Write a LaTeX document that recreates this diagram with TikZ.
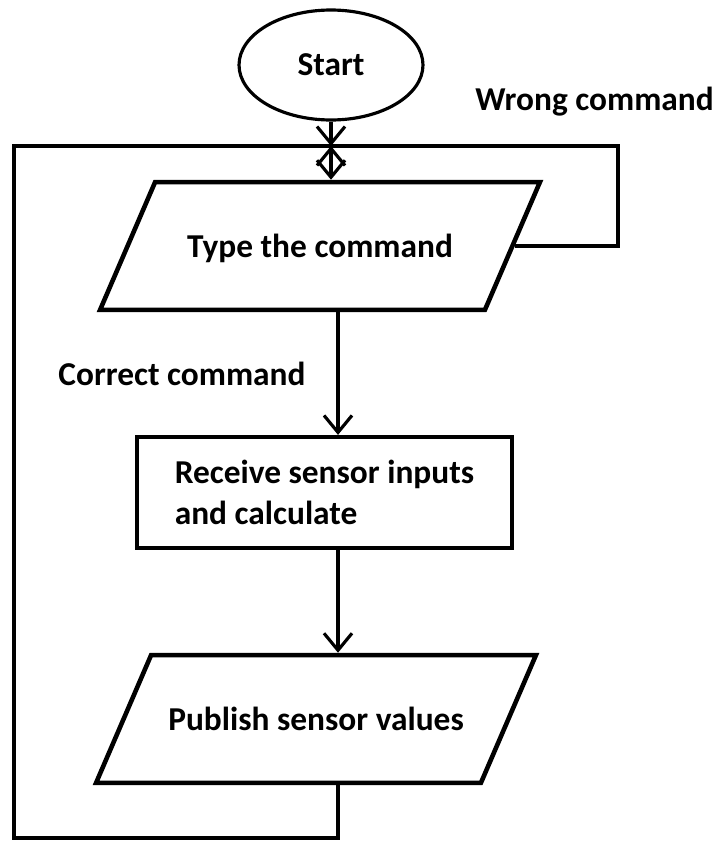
\documentclass[tikz,border=0pt]{standalone}
\usepackage{fontspec}
\setmainfont{Carlito}
\usetikzlibrary{arrows.meta,shapes.geometric,positioning}

\tikzset{
	flowtext/.style={font=\bfseries\fontsize{19}{23}\selectfont},
	flowline/.style={line width=2.4pt},
	flowarrow/.style={line width=1.8pt,-{Straight Barb[length=3.4mm,width=5.6mm]}},
	startbox/.style={draw,ellipse,line width=1.8pt,minimum width=3.68cm,minimum height=2.2cm,flowtext},
	iobox/.style={draw,trapezium,trapezium left angle=66.7,trapezium right angle=113.3,trapezium stretches body=true,line width=2.6pt,text height=16pt,text depth=3pt,inner ysep=26.9pt,minimum width=8.8cm,flowtext},
	procbox/.style={draw,rectangle,line width=2.4pt,minimum width=7.5cm,minimum height=2.22cm,align=left,flowtext}
}

\begin{document}
\begin{tikzpicture}[x=0.02cm,y=-0.02cm]
			%%%%% START %%%%%
			
			\useasboundingbox (0, 0) rectangle (723, 842);
			
			\node[startbox] (start) at (331, 65) {Start};
			\node[iobox] (type) at (320, 246) {Type the command};
			\node[procbox] (recv) at (324.5, 492.5) {Receive sensor inputs\\and calculate};
			\node[iobox] (pub) at (316, 719) {Publish sensor values};
			
			\node[flowtext, anchor=east] (wrong) at (720, 102) {Wrong command};
			\node[flowtext] (correct) at (182, 374) {Correct command};
			
			\coordinate (join) at (331, 146);
			\coordinate (axis) at (338, 0);
			\coordinate (wrongcorner) at (618, 146);
			\coordinate (backcorner) at (14, 838);
			
			\draw[flowarrow] (start.south) -- (join);
			\draw[flowarrow, {Straight Barb[length=3.4mm,width=5.6mm]}-{Straight Barb[length=3.4mm,width=5.6mm]}] (join) -- (join |- type.north);
			
			\draw[flowarrow] (axis |- type.south) -- (axis |- recv.north);
			\draw[flowarrow] (axis |- recv.south) -- (axis |- pub.north);
			
			% loops back to the top
			\draw[flowline] (type.east) -| (wrongcorner) -- (join);
			\draw[flowline] (axis |- pub.south) |- (backcorner) |- (join);
			
			%%%%% END %%%%%
\end{tikzpicture}
\end{document}
